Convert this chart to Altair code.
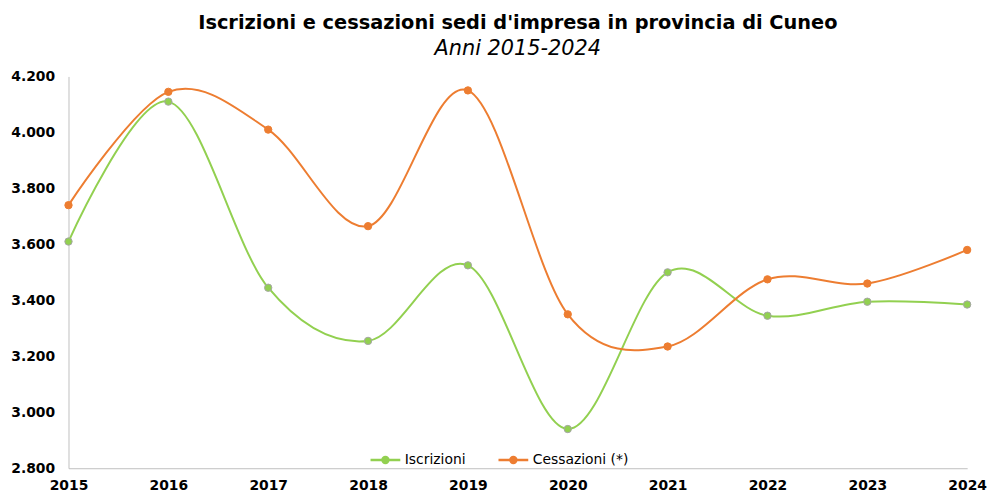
import altair as alt
import pandas as pd

anni = [2015, 2016, 2017, 2018, 2019, 2020, 2021, 2022, 2023, 2024]
iscrizioni = [3610, 4110, 3445, 3255, 3525, 2940, 3500, 3345, 3395, 3385]
cessazioni = [3740, 4145, 4010, 3665, 4150, 3350, 3235, 3475, 3460, 3580]
serie_nomi = ["Iscrizioni", "Cessazioni (*)"]
colori = ["#92D050", "#ED7D31"]
y_ticks = [2800, 3000, 3200, 3400, 3600, 3800, 4000, 4200]

rows = []
for a, v in zip(anni, iscrizioni):
    rows.append({"anno": a, "serie": serie_nomi[0], "valore": v})
for a, v in zip(anni, cessazioni):
    rows.append({"anno": a, "serie": serie_nomi[1], "valore": v})
df = pd.DataFrame(rows)

# line with a "filled" dot made of concentric circles (stroked only)
sym = ("M-1,0H1"
       "M-0.2,0A0.2,0.2,0,1,0,0.2,0A0.2,0.2,0,1,0,-0.2,0Z"
       "M-0.08,0A0.08,0.08,0,1,0,0.08,0A0.08,0.08,0,1,0,-0.08,0Z")

x = alt.X("anno:Q", scale=alt.Scale(domain=[2015, 2024], nice=False, zero=False),
          axis=alt.Axis(values=anni, format="d", title=None, grid=False, ticks=False,
                        labelFont="DejaVu Sans", labelFontSize=14, labelFontWeight="bold",
                        labelColor="#000000", labelPadding=10, domainColor="#BFBFBF",
                        labelFlush=False))
y = alt.Y("valore:Q", scale=alt.Scale(domain=[2800, 4200], nice=False, zero=False),
          axis=alt.Axis(values=y_ticks, title=None, grid=False, ticks=False,
                        labelExpr="replace(format(datum.value, ','), ',', '.')",
                        labelFont="DejaVu Sans", labelFontSize=14, labelFontWeight="bold",
                        labelColor="#000000", labelPadding=14, domainColor="#BFBFBF"))

scale = alt.Scale(domain=serie_nomi, range=colori)
legend = alt.Legend(title=None, orient="none", legendX=303, legendY=370, direction="horizontal",
                    symbolType=sym, symbolSize=900, symbolStrokeWidth=2.5,
                    labelFont="DejaVu Sans", labelFontSize=14, labelColor="#000000",
                    columnPadding=27, labelOffset=3)

base = alt.Chart(df)
lines = base.mark_line(interpolate="cardinal", strokeWidth=2).encode(
    x=x, y=y, stroke=alt.Stroke("serie:N", scale=scale, legend=legend)
)
points = base.mark_point(filled=True, size=55, opacity=1, strokeWidth=1).encode(
    x=x, y=y,
    fill=alt.Fill("serie:N", scale=scale, legend=None),
    stroke=alt.condition(alt.datum.serie == serie_nomi[0],
                         alt.value("#A5A5A5"), alt.value(colori[1])),
)

chart = alt.layer(lines, points).properties(
    width=906, height=395,
    title=alt.TitleParams(
        text="Iscrizioni e cessazioni sedi d'impresa in provincia di Cuneo",
        subtitle="Anni 2015-2024",
        font="DejaVu Sans", fontSize=19.5, fontWeight="bold", color="#000000",
        subtitleFont="DejaVu Sans", subtitleFontSize=21, subtitleFontStyle="italic",
        subtitleColor="#000000", subtitlePadding=4, anchor="middle", offset=10,
    ),
    autosize=alt.AutoSizeParams(type="none"),
    padding={"left": 61, "top": 67, "right": 20, "bottom": 25},
).configure_view(stroke=None)

chart.save("out.html", embed_options={"renderer": "svg", "actions": False})
